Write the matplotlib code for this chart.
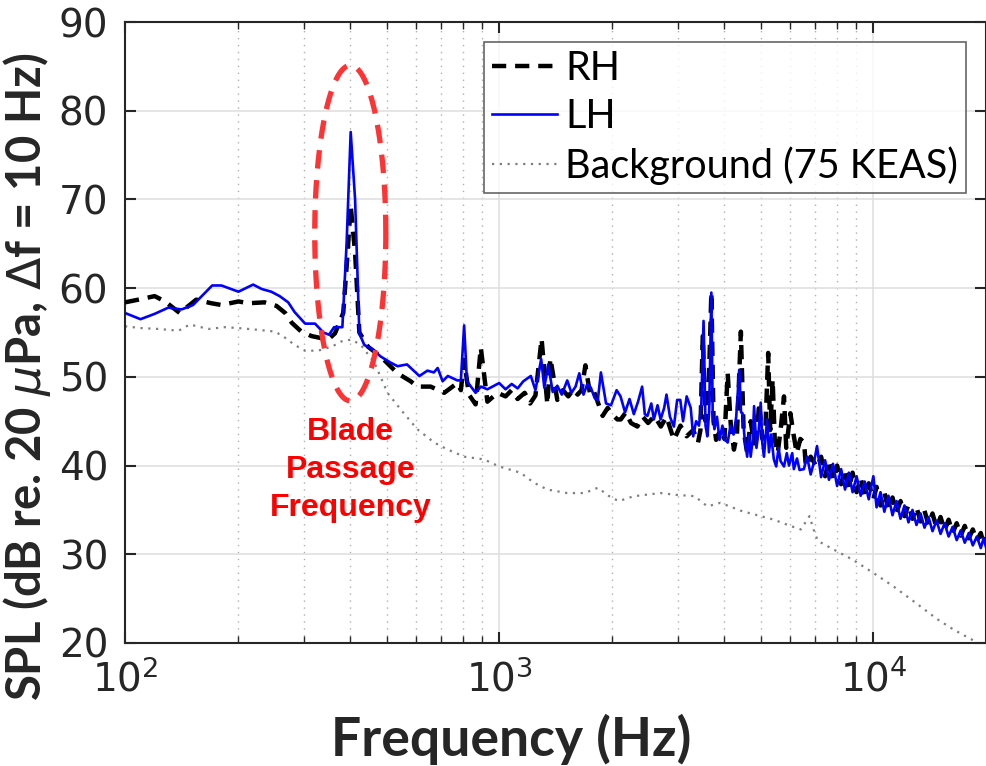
import numpy as np
import matplotlib
matplotlib.use("Agg")
import matplotlib.pyplot as plt
from matplotlib.ticker import LogLocator

plt.rcParams['font.family'] = ['DejaVu Sans']
plt.rcParams['mathtext.fontset'] = 'dejavusans'

# ---------------- data ----------------
lh_freq = [100, 110, 120, 130.5, 141.6, 152, 171, 181, 201, 220, 232, 246, 259, 273, 284, 303, 322, 339, 351, 362, 381,
           391, 401, 412, 423, 436, 459, 482, 513, 535, 567, 612, 643, 669, 685, 706, 729, 773, 790, 806, 820, 865, 893, 930,
           1000, 1040, 1080, 1120, 1160, 1215, 1250, 1295, 1320, 1352, 1390, 1430, 1470, 1520, 1560, 1600, 1637, 1680, 1720,
           1757, 1800, 1835, 1870, 1930, 1990,
           2060, 2110, 2170, 2230, 2290, 2350, 2410, 2450, 2490, 2550, 2590, 2650, 2700, 2760, 2800, 2860, 2930, 2990, 3048,
           3100, 3170, 3250, 3300, 3360, 3420, 3470, 3517, 3560, 3600, 3640, 3690, 3720, 3760, 3820, 3880, 3950, 4000, 4080,
           4150, 4230, 4300, 4380, 4430, 4470, 4530, 4600, 4650, 4700, 4760, 4800, 4870, 4940, 5000, 5050, 5100, 5200, 5260,
           5330, 5420, 5500, 5580, 5650, 5770, 5870, 5950, 6070, 6130, 6250, 6350, 6520, 6650, 6800, 6950,
           7070, 7250, 7430, 7610, 7800, 8000, 8200, 8400, 8600, 8800, 9020, 9250, 9480, 9720, 10000, 10200, 10450,
           10700, 10970, 11250, 11530, 11820, 12110, 12410, 12720, 13040, 13370, 13700, 14040, 14390, 14750, 15120,
           15500, 15890, 16290, 16700, 17120, 17550, 17990, 18440, 18900, 19370, 19700, 20000]
lh_spl = [57.2, 56.5, 57.1, 57.8, 57.6, 58.1, 60.3, 60.3, 59.6, 60.4, 59.9, 59.6, 59.1, 58.4, 57.3, 56.0, 56.0, 55.0, 54.75,
          55.6, 55.6,
          65.0, 77.6, 70.0, 54.9, 53.6, 53.1, 52.3, 51.6, 51.2, 51.4, 50.1, 50.7, 50.5, 51.0, 49.5, 50.1, 49.6, 49.6, 55.8,
          49.5, 48.2, 48.9, 48.6,
          49.3, 48.6, 49.2, 48.7, 49.5, 50.1, 48.5, 52.0, 48.8, 51.4, 48.3, 49.0, 48.0, 49.6, 48.2, 48.9, 50.4, 48.0, 49.2,
          48.8, 47.6, 47.4, 50.5, 47.0, 46.8,
          48.5, 47.8, 46.0, 47.5, 45.8, 47.2, 48.9, 45.8, 45.6, 47.0, 45.2, 46.8, 45.2, 46.5, 48.0, 45.5, 44.4, 47.4, 47.4,
          45.0, 47.8, 46.5, 43.3, 45.0, 44.5, 47.0, 56.3, 44.5, 43.3, 46.0, 59.5, 46.0, 44.1, 45.5, 42.9, 44.5, 43.0, 42.6,
          44.5, 43.5, 45.5, 50.8, 46.0, 45.9, 43.0, 41.0, 43.5, 41.0, 43.0, 46.7, 42.0, 44.0, 47.1, 42.5, 41.0, 45.2, 41.5,
          43.5, 40.7, 39.9, 42.0, 40.5, 39.9, 41.4, 40.0, 41.4, 39.6, 40.8, 39.5, 39.6, 41.0, 39.0, 40.5,
          42.2, 38.7, 40.6, 38.4, 40.2, 37.7, 39.6, 37.3, 39.2, 37.0, 38.8, 36.6, 38.2, 36.2, 38.8, 35.3, 37.0,
          34.8, 36.6, 34.4, 36.0, 34.0, 35.5, 33.6, 35.0, 33.3, 34.6, 33.0, 34.2, 32.6, 33.8, 32.3,
          33.5, 32.0, 33.1, 31.6, 32.7, 31.3, 32.4, 31.0, 32.0, 30.7, 31.8, 30.8]

rh_freq = [100, 108.5, 120, 128, 140, 155, 170, 181, 201, 214, 236, 254, 268, 279, 296, 315, 349, 364, 383,
           392, 401, 412, 423, 446, 482, 535, 580, 604, 656, 713, 773, 790, 806, 830, 865, 893, 930, 990,
           1040, 1080, 1120, 1170, 1210, 1250, 1298, 1345, 1370, 1430, 1480, 1530, 1580, 1620, 1660, 1700, 1750, 1790,
           1840, 1890, 1950, 2000, 2070, 2113, 2180, 2250, 2340, 2420, 2500, 2600, 2704, 2800, 2930, 3050, 3170, 3300,
           3400, 3450, 3500, 3560, 3620, 3690, 3740, 3800, 3900, 4000, 4080, 4160, 4240, 4320, 4425, 4500, 4600, 4700,
           4800, 4900, 4950, 5050, 5150, 5235, 5300, 5380, 5450, 5550, 5650, 5770, 5850, 6000, 6120, 6240, 6380, 6530,
           6600, 6800,
           7070, 7250, 7430, 7610, 7800, 8000, 8200, 8400, 8600, 8800, 9020, 9250, 9480, 9720, 10000, 10200, 10450,
           10700, 10970, 11250, 11530, 11820, 12110, 12410, 12720, 13040, 13370, 13700, 14040, 14390, 14750, 15120,
           15500, 15890, 16290, 16700, 17120, 17550, 17990, 18440, 18900, 19370, 19700, 20000]
rh_spl = [58.4, 58.7, 59.1, 58.5, 57.2, 58.7, 58.3, 58.1, 58.5, 58.3, 58.4, 58.0, 57.2, 56.1, 55.1, 54.6, 54.2, 54.9, 57.2,
          63.0, 69.3, 64.0, 55.0, 53.4, 52.3, 50.4, 49.5, 48.9, 48.9, 48.2, 49.3, 48.5, 51.9, 48.0, 46.9, 53.3, 47.2, 48.2,
          47.8, 48.5, 47.5, 48.2, 47.0, 47.9, 54.3, 46.9, 52.1, 47.4, 48.5, 47.8, 48.6, 48.0, 48.5, 51.3, 48.0, 48.4,
          47.0, 45.6, 46.5, 45.8, 45.2, 45.2, 46.0, 44.8, 44.4, 45.5, 44.8, 45.6, 44.4, 45.5, 42.9, 44.5, 43.3, 44.0,
          42.6, 44.0, 54.6, 45.0, 47.0, 59.5, 45.0, 42.9, 44.0, 43.0, 50.4, 44.5, 41.8, 43.5, 55.1, 44.0, 41.4, 45.0,
          42.5, 44.0, 47.1, 43.0, 44.5, 52.7, 44.0, 49.7, 43.0, 41.4, 44.0, 47.8, 42.0, 45.9, 43.5, 41.4, 43.0, 42.6,
          39.9, 41.0,
          39.8, 41.0, 38.8, 40.6, 38.4, 40.0, 37.9, 39.6, 37.4, 39.2, 37.0, 38.6, 36.6, 38.0, 36.2, 37.6, 35.5,
          37.0, 35.0, 36.4, 34.7, 36.0, 34.3, 35.6, 34.0, 35.3, 33.7, 34.9, 33.3, 34.6, 33.0, 34.2,
          32.7, 33.9, 32.4, 33.5, 32.1, 33.2, 31.8, 32.8, 31.5, 32.4, 31.2, 31.9]

bg_freq = [100, 110, 123, 139, 149, 167, 185, 201, 227, 252, 268, 284, 303, 328, 357, 379, 403, 427, 464, 503, 546,
           604, 670, 729, 807, 910, 1000, 1140, 1240, 1345, 1520, 1690, 1835, 1990, 2090, 2290, 2700, 2970, 3330,
           3600, 3900, 4430, 5000, 5420, 6000, 6400, 6750, 6920, 7110, 7860, 8800, 10000, 11300, 13000, 14800,
           16400, 18300, 20000]
bg_spl = [55.7, 55.5, 55.4, 55.2, 55.9, 55.4, 55.6, 55.5, 55.3, 55.1, 54.4, 53.6, 52.95, 52.95, 53.4, 54.0, 54.2, 53.6,
          51.6, 48.2, 46.3, 44.1, 42.6, 41.8, 41.0, 40.7, 39.9, 39.2, 38.05, 37.3, 36.9, 36.9, 37.5, 36.4, 36.0, 36.55,
          36.9, 36.7, 36.55, 35.4, 35.8, 34.9, 34.3, 33.9, 33.2, 32.8, 34.3, 32.8, 31.5, 30.5, 29.4, 27.9, 26.4, 24.5,
          22.7, 21.5, 20.4, 19.3]

series_labels = ['RH', 'LH', 'Background (75 KEAS)']
y_ticks = [20, 30, 40, 50, 60, 70, 80, 90]
x_limits = [100, 20000]
y_limits = [20, 90]
x_label = 'Frequency (Hz)'
y_label = r'SPL (dB re. 20 $\mu$Pa, $\Delta$f = 10 Hz)'
annot_text = 'Blade\nPassage\nFrequency'
# ellipse around the blade passage frequency (center freq, log half-width, center dB, half-height)
bpf_center_hz = 400
bpf_log_halfwidth = 0.095
bpf_center_db = 66.2
bpf_halfheight_db = 18.9

# ---------------- figure ----------------
fig = plt.figure(figsize=(9.86, 7.66), dpi=100)
ax = fig.add_axes([125 / 986, 123 / 766, 861 / 986, 621 / 766])

l_bg, = ax.plot(bg_freq, bg_spl, linestyle=(0, (1, 2.5)), color='#7f7f7f', lw=1.6, label=series_labels[2], zorder=2)
l_rh, = ax.plot(rh_freq, rh_spl, color='black', lw=3.2, dashes=(3.2, 2.0), label=series_labels[0], zorder=3)
l_lh, = ax.plot(lh_freq, lh_spl, color='#0000ff', lw=1.9, label=series_labels[1], zorder=4)

# ellipse (dashed red)
t = np.linspace(0, 2 * np.pi, 300)
ex = 10 ** (np.log10(bpf_center_hz) + bpf_log_halfwidth * np.cos(t))
ey = bpf_center_db + bpf_halfheight_db * np.sin(t)
ax.plot(ex, ey, color='#ff3333', lw=3.8, dashes=(3.5, 2.2), zorder=5)

ax.text(bpf_center_hz, 45.5, annot_text, color='#ff0000', fontsize=23, fontweight='bold',
        ha='center', va='top', linespacing=1.35, family=['Liberation Sans', 'DejaVu Sans'])

ax.set_xscale('log')
ax.set_xlim(x_limits)
ax.set_ylim(y_limits)
ax.set_yticks(y_ticks)
ax.xaxis.set_minor_locator(LogLocator(base=10, subs=np.arange(2, 10)))

ax.grid(True, which='major', color='#dedede', lw=1.1, linestyle='-')
ax.grid(True, which='minor', axis='x', color='#b0b0b0', lw=1.0, linestyle=(0, (1, 4)))
ax.set_axisbelow(True)

ax.tick_params(which='both', direction='in', top=True, right=True, colors='#262626',
               labelsize=28, labelcolor='#262626')
ax.tick_params(which='major', length=8, width=1.5)
ax.tick_params(axis='x', which='major', pad=12)
ax.tick_params(axis='y', which='major', pad=12)
ax.tick_params(which='minor', length=5, width=1.0)
for s in ax.spines.values():
    s.set_color('#262626')
    s.set_linewidth(1.5)

ax.set_xlabel(x_label, fontsize=38.5, fontweight='bold', family=['Lato', 'DejaVu Sans'], color='#262626')
ax.set_ylabel(y_label, fontsize=34, fontweight='bold', family=['Lato', 'DejaVu Sans'], color='#262626')
ax.xaxis.set_label_coords(0.448, -0.114)
ax.yaxis.set_label_coords(-0.084, 0.429)

leg = ax.legend(handles=[l_rh, l_lh, l_bg], labels=series_labels, loc='upper right',
                bbox_to_anchor=(0.977, 0.968), frameon=True, fancybox=False,
                handlelength=1.65, handletextpad=0.2, borderpad=0.2, labelspacing=0.28,
                borderaxespad=0.0, prop={'family': ['Lato', 'DejaVu Sans'], 'size': 28.5})
leg.get_frame().set_edgecolor('#404040')
leg.get_frame().set_linewidth(1.2)

fig.savefig('out.png', dpi=100)
